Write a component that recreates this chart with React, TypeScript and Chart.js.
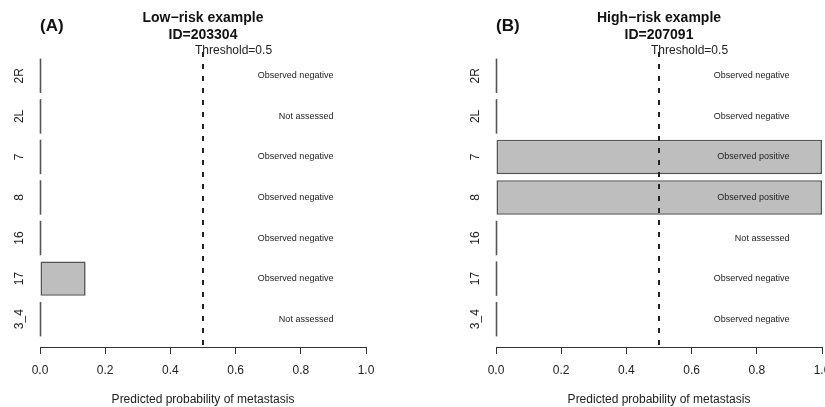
import React, { useEffect, useRef } from 'react';
import { Chart, registerables } from 'chart.js';

Chart.register(...registerables);

// ---- data ----
const sites = ['2R', '2L', '7', '8', '16', '17', '3_4'];

const lowRiskProb = [0, 0, 0, 0, 0, 0.14, 0];
const lowRiskStatus = [
  'Observed negative',
  'Not assessed',
  'Observed negative',
  'Observed negative',
  'Observed negative',
  'Observed negative',
  'Not assessed',
];

const highRiskProb = [0, 0, 1.0, 1.0, 0, 0, 0];
const highRiskStatus = [
  'Observed negative',
  'Observed negative',
  'Observed positive',
  'Observed positive',
  'Not assessed',
  'Observed negative',
  'Observed negative',
];

const xTickValues = [0, 0.2, 0.4, 0.6, 0.8, 1.0];
const xTickLabels = ['0.0', '0.2', '0.4', '0.6', '0.8', '1.0'];
const threshold = 0.5;
const thresholdLabel = 'Threshold=0.5';
const xAxisTitle = 'Predicted probability of metastasis';

const panelTags = ['(A)', '(B)'];
const panelTitles = ['Low\u2212risk example', 'High\u2212risk example'];
const panelIds = ['ID=203304', 'ID=207091'];
const panelProbs = [lowRiskProb, highRiskProb];
const panelStatus = [lowRiskStatus, highRiskStatus];

const FONT = "'Liberation Sans', Arial, Helvetica, sans-serif";

function makePanelPlugin(idx: number) {
  return {
    id: 'panelDecor' + idx,
    afterDatasetsDraw(chart: any) {
      const ctx = chart.ctx;
      const xs = chart.scales.x;
      const ys = chart.scales.y;
      const area = chart.chartArea;
      // zero-width bars: draw their outline as a vertical line
      const meta = chart.getDatasetMeta(0);
      ctx.save();
      ctx.strokeStyle = '#555';
      ctx.lineWidth = 1.6;
      meta.data.forEach((bar: any) => {
        const p = bar.getProps(['x', 'y', 'base', 'height'], true);
        if (Math.abs(p.x - p.base) < 1) {
          ctx.beginPath();
          ctx.moveTo(p.base + 0.5, p.y - p.height / 2);
          ctx.lineTo(p.base + 0.5, p.y + p.height / 2);
          ctx.stroke();
        }
      });
      ctx.restore();

      // threshold dashed line
      const tx = xs.getPixelForValue(threshold);
      ctx.save();
      ctx.strokeStyle = '#222';
      ctx.lineWidth = 2;
      ctx.setLineDash([5, 7]);
      ctx.lineDashOffset = 8;
      ctx.beginPath();
      ctx.moveTo(tx, area.top);
      ctx.lineTo(tx, area.bottom);
      ctx.stroke();
      ctx.restore();

      // status labels & row labels
      ctx.save();
      const statuses = panelStatus[idx];
      sites.forEach((s, i) => {
        const y = ys.getPixelForValue(i);
        ctx.fillStyle = '#222';
        ctx.font = `9px ${FONT}`;
        ctx.textAlign = 'right';
        ctx.textBaseline = 'middle';
        ctx.fillText(statuses[i], xs.getPixelForValue(0.9), y);

        ctx.save();
        ctx.translate(area.left - 20, y);
        ctx.rotate(-Math.PI / 2);
        ctx.font = `12px ${FONT}`;
        ctx.fillStyle = '#222';
        ctx.textAlign = 'center';
        ctx.textBaseline = 'middle';
        ctx.fillText(s, 0, 0);
        ctx.restore();
      });
      ctx.restore();

      // titles
      ctx.save();
      const cx = xs.getPixelForValue(0.5);
      ctx.fillStyle = '#111';
      ctx.textBaseline = 'middle';
      ctx.textAlign = 'center';
      ctx.font = `bold 14px ${FONT}`;
      ctx.fillText(panelTitles[idx], cx, 18);
      ctx.fillText(panelIds[idx], cx, 35);
      ctx.textAlign = 'left';
      ctx.font = `bold 17px ${FONT}`;
      ctx.fillText(panelTags[idx], area.left, 26);
      ctx.font = `12px ${FONT}`;
      ctx.fillStyle = '#222';
      ctx.fillText(thresholdLabel, tx - 8, 51);
      ctx.restore();
    },
  };
}

function Panel({ idx, left, width, padLeft, padRight }: { idx: number; left: number; width: number; padLeft: number; padRight: number }) {
  const ref = useRef<HTMLCanvasElement | null>(null);
  useEffect(() => {
    if (!ref.current) return;
    const probs = panelProbs[idx];
    const chart = new Chart(ref.current, {
      type: 'bar',
      data: {
        datasets: [
          {
            data: sites.map((_, i) => ({ x: probs[i], y: i })),
            backgroundColor: '#bebebe',
            borderColor: '#555',
            borderWidth: 1.6,
            borderSkipped: false,
            barPercentage: 0.85,
            categoryPercentage: 1,
          } as any,
        ],
      },
      options: {
        indexAxis: 'y',
        animation: false,
        responsive: false,
        maintainAspectRatio: false,
        layout: { padding: { left: padLeft, right: padRight, top: 48, bottom: 0 } },
        plugins: { legend: { display: false }, tooltip: { enabled: false } },
        scales: {
          x: {
            type: 'linear',
            position: 'bottom',
            min: 0,
            max: 1,
            afterBuildTicks: (scale: any) => {
              scale.ticks = xTickValues.map((v) => ({ value: v }));
            },
            ticks: {
              callback: (_v: any, i: number) => xTickLabels[i],
              font: { size: 12, family: FONT },
              color: '#222',
              padding: 9,
              maxRotation: 0,
              autoSkip: false,
            },
            grid: { drawOnChartArea: false, drawTicks: true, tickLength: 7, color: '#333', lineWidth: 1 },
            border: { display: true, color: '#333', width: 1 },
            title: {
              display: true,
              text: xAxisTitle,
              font: { size: 12, family: FONT },
              color: '#222',
              padding: { top: 6.2, bottom: 0 },
            },
          },
          y: {
            type: 'linear',
            reverse: true,
            offset: false,
            min: -0.686,
            max: 6.686,
            display: false,
            afterBuildTicks: (scale: any) => {
              scale.ticks = sites.map((_, i) => ({ value: i }));
            },
          },
        },
      } as any,
      plugins: [makePanelPlugin(idx)],
    });
    return () => chart.destroy();
  }, [idx, padLeft, padRight]);
  return (
    <canvas
      ref={ref}
      width={width}
      height={407}
      style={{ position: 'absolute', left, top: 0, width, height: 407 }}
    />
  );
}

export default function App() {
  return (
    <div
      style={{
        position: 'absolute',
        left: 0,
        top: 0,
        width: 825,
        height: 407,
        overflow: 'hidden',
        background: '#fff',
      }}
    >
      <Panel idx={0} left={0} width={412} padLeft={40} padRight={46} />
      <Panel idx={1} left={412} width={430} padLeft={84} padRight={20} />
    </div>
  );
}
